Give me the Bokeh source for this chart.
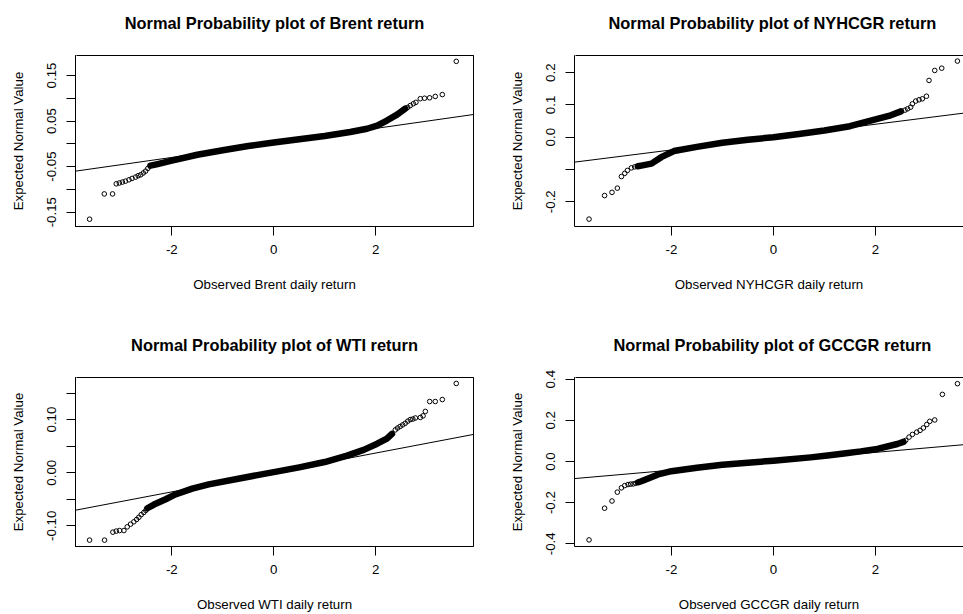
from bokeh.plotting import figure
from bokeh.layouts import column, row
from bokeh.models import Range1d, FixedTicker, Slope, LinearAxis, Title
from bokeh.embed import file_html
from bokeh.resources import INLINE

FONT = "Liberation Sans"

# ---------------- data ----------------
names = ["Brent", "NYHCGR", "WTI", "GCCGR"]
titles = ["Normal Probability plot of %s return" % n for n in names]
xlabels = ["Observed %s daily return" % n for n in names]
ylabel = "Expected Normal Value"

x_ticks = [-2, 0, 2]
x_tick_labels = ["-2", "0", "2"]

brent_yticks = [-0.15, -0.10, -0.05, 0.0, 0.05, 0.10, 0.15]
brent_ylabels = ["-0.15", "", "-0.05", "", "0.05", "", "0.15"]
nyhcgr_yticks = [-0.2, -0.1, 0.0, 0.1, 0.2]
nyhcgr_ylabels = ["-0.2", "", "0.0", "0.1", "0.2"]
wti_yticks = [-0.10, -0.05, 0.0, 0.05, 0.10, 0.15]
wti_ylabels = ["-0.10", "", "0.00", "", "0.10", ""]
gccgr_yticks = [-0.4, -0.2, 0.0, 0.2, 0.4]
gccgr_ylabels = ["-0.4", "-0.2", "0.0", "0.2", "0.4"]

# dense central band (theoretical quantile, return)
brent_band_x = [-2.42, -2.3, -2.0, -1.5, -1.0, -0.5, 0.0, 0.5, 1.0, 1.5, 1.83, 2.03, 2.22, 2.42, 2.58]
brent_band_y = [-0.048, -0.045, -0.037, -0.024, -0.014, -0.005, 0.003, 0.010, 0.017, 0.026, 0.033, 0.040, 0.051, 0.064, 0.077]
# sparse tail points
brent_tail_x = [-3.614, -3.325, -3.163, -3.09, -3.03, -2.97, -2.91, -2.84, -2.78, -2.71, -2.66, -2.61, -2.56, -2.515, -2.47,
                2.63, 2.68, 2.74, 2.79, 2.876, 2.96, 3.059, 3.17, 3.308, 3.582]
brent_tail_y = [-0.1655, -0.110, -0.110, -0.0878, -0.086, -0.084, -0.082, -0.079, -0.076, -0.073, -0.070, -0.068, -0.064, -0.060, -0.054,
                0.080, 0.084, 0.088, 0.091, 0.099, 0.100, 0.101, 0.104, 0.108, 0.181]
brent_slope = 0.01592
brent_intercept = 0.0019

nyhcgr_band_x = [-2.66, -2.59, -2.39, -2.2, -1.95, -1.5, -1.0, -0.5, 0.0, 0.5, 1.0, 1.5, 2.0, 2.3, 2.5]
nyhcgr_band_y = [-0.090, -0.088, -0.082, -0.062, -0.043, -0.030, -0.017, -0.008, 0.000, 0.010, 0.021, 0.034, 0.055, 0.068, 0.080]
nyhcgr_tail_x = [-3.615, -3.31, -3.165, -3.06, -2.98, -2.915, -2.863, -2.784, -2.72,
                 2.58, 2.63, 2.69, 2.725, 2.79, 2.855, 2.92, 3.0, 3.051, 3.163, 3.30, 3.608]
nyhcgr_tail_y = [-0.254, -0.181, -0.171, -0.158, -0.122, -0.112, -0.103, -0.095, -0.092,
                 0.084, 0.088, 0.093, 0.1035, 0.112, 0.116, 0.119, 0.127, 0.176, 0.207, 0.214, 0.236]
nyhcgr_slope = 0.01992
nyhcgr_intercept = 0.0003

wti_band_x = [-2.48, -2.35, -2.12, -1.93, -1.6, -1.275, -0.62, 0.0, 0.5, 1.0, 1.44, 1.765, 2.03, 2.22, 2.32]
wti_band_y = [-0.067, -0.060, -0.050, -0.041, -0.030, -0.022, -0.010, 0.001, 0.010, 0.020, 0.032, 0.043, 0.0545, 0.064, 0.073]
wti_tail_x = [-3.614, -3.32, -3.157, -3.09, -3.025, -2.94, -2.875, -2.81, -2.745, -2.69, -2.647, -2.6, -2.55, -2.51,
              2.386, 2.43, 2.48, 2.53, 2.58, 2.63, 2.68, 2.73, 2.78, 2.877, 2.93, 2.975, 3.06, 3.17, 3.308, 3.582]
wti_tail_y = [-0.127, -0.127, -0.112, -0.110, -0.109, -0.109, -0.102, -0.097, -0.0925, -0.088, -0.084, -0.079, -0.075, -0.071,
              0.0806, 0.084, 0.087, 0.090, 0.093, 0.097, 0.100, 0.101, 0.103, 0.104, 0.107, 0.1154, 0.134, 0.134, 0.1377, 0.168]
wti_slope = 0.01827
wti_intercept = 0.0004

gccgr_band_x = [-2.65, -2.59, -2.26, -2.0, -1.5, -1.0, -0.5, 0.0, 0.73, 1.06, 1.384, 1.71, 2.04, 2.43, 2.55]
gccgr_band_y = [-0.101, -0.096, -0.063, -0.047, -0.030, -0.016, -0.006, 0.004, 0.020, 0.029, 0.039, 0.049, 0.061, 0.085, 0.095]
gccgr_tail_x = [-3.615, -3.31, -3.165, -3.06, -2.98, -2.915, -2.85, -2.8, -2.75, -2.70,
                2.594, 2.66, 2.725, 2.81, 2.875, 2.94, 3.006, 3.065, 3.163, 3.313, 3.608]
gccgr_tail_y = [-0.381, -0.227, -0.192, -0.149, -0.128, -0.117, -0.112, -0.110, -0.109, -0.106,
                0.1027, 0.1186, 0.1315, 0.1426, 0.151, 0.163, 0.1795, 0.195, 0.2017, 0.326, 0.378]
gccgr_slope = 0.02157
gccgr_intercept = 0.0011


def make_panel(i, band_x, band_y, tail_x, tail_y, slope, intercept, yticks, ylabels,
               xr, yr, width, height, bl, br, bt, bb, open_right, title_offset):
    p = figure(width=width, height=height, output_backend="svg", toolbar_location=None,
               tools="", x_range=Range1d(*xr), y_range=Range1d(*yr),
               min_border_left=bl, min_border_right=br, min_border_top=bt, min_border_bottom=bb,
               background_fill_color="white", border_fill_color="white")
    p.grid.visible = False
    p.title.text = ""

    # top edge of the box; its (white, invisible) tick reserves room under the title
    spacer_tick = [xr[0] + 0.02]
    top = LinearAxis(ticker=FixedTicker(ticks=spacer_tick), major_tick_out=19, major_tick_in=0,
                     major_tick_line_color="white", axis_line_color="black",
                     minor_tick_line_color=None, major_label_standoff=0,
                     major_label_text_font_size="1px",
                     major_label_overrides={spacer_tick[0]: ""})
    p.add_layout(top, "above")

    t = Title(text=titles[i], text_font=FONT, text_font_size="16.4px",
              text_font_style="bold", text_color="black", standoff=10)
    if title_offset is None:
        t.align = "center"
    else:
        t.align = "left"
        t.offset = title_offset
    p.add_layout(t, "above")

    if open_right:
        p.outline_line_color = None
    else:
        p.outline_line_color = "black"
        p.outline_line_alpha = 1.0
        p.outline_line_width = 1

    xa = p.below[0]
    ya = p.left[0]
    for ax in (xa, ya):
        ax.axis_line_color = "black"
        ax.major_tick_line_color = "black"
        ax.major_tick_out = 9
        ax.major_tick_in = 0
        ax.minor_tick_line_color = None
        ax.major_label_text_font = FONT
        ax.major_label_text_font_size = "13.3px"
        ax.major_label_text_color = "black"
        ax.axis_label_text_font = FONT
        ax.axis_label_text_font_size = "13.3px"
        ax.axis_label_text_font_style = "normal"
        ax.axis_label_text_color = "black"

    xa.ticker = FixedTicker(ticks=x_ticks)
    xa.major_label_overrides = dict(zip(x_ticks, x_tick_labels))
    xa.axis_label = xlabels[i]
    xa.major_label_standoff = 9
    xa.axis_label_standoff = 20

    ya.ticker = FixedTicker(ticks=yticks)
    ya.major_label_overrides = dict(zip(yticks, ylabels))
    ya.major_label_orientation = "vertical"
    ya.axis_label = ylabel
    ya.major_label_standoff = 10
    ya.axis_label_standoff = 19

    p.add_layout(Slope(gradient=slope, y_intercept=intercept, line_color="black", line_width=1))
    p.line(band_x, band_y, line_width=6.5, line_color="black", line_cap="round", line_join="round")
    p.scatter(tail_x, tail_y, marker="circle", size=4.6, fill_color=None,
              line_color="black", line_width=1)
    return p


LW, RW = 480, 483
TH, BH = 322, 292

p1 = make_panel(0, brent_band_x, brent_band_y, brent_tail_x, brent_tail_y, brent_slope, brent_intercept,
                brent_yticks, brent_ylabels, (-3.89, 3.92), (-0.1815, 0.1938),
                LW, TH, 75, 7, 55, 96, False, None)
p2 = make_panel(1, nyhcgr_band_x, nyhcgr_band_y, nyhcgr_tail_x, nyhcgr_tail_y, nyhcgr_slope, nyhcgr_intercept,
                nyhcgr_yticks, nyhcgr_ylabels, (-3.9, 3.727), (-0.2769, 0.2533),
                RW, TH, 94, 0, 55, 96, True, 34)
p3 = make_panel(2, wti_band_x, wti_band_y, wti_tail_x, wti_tail_y, wti_slope, wti_intercept,
                wti_yticks, wti_ylabels, (-3.89, 3.92), (-0.139, 0.1792),
                LW, BH, 75, 7, 55, 66, False, None)
p4 = make_panel(3, gccgr_band_x, gccgr_band_y, gccgr_tail_x, gccgr_tail_y, gccgr_slope, gccgr_intercept,
                gccgr_yticks, gccgr_ylabels, (-3.9, 3.727), (-0.413, 0.408),
                RW, BH, 94, 0, 55, 66, True, 39)

layout = column(row(p1, p2), row(p3, p4))

with open("out.html", "w") as f:
    f.write(file_html(layout, INLINE))
